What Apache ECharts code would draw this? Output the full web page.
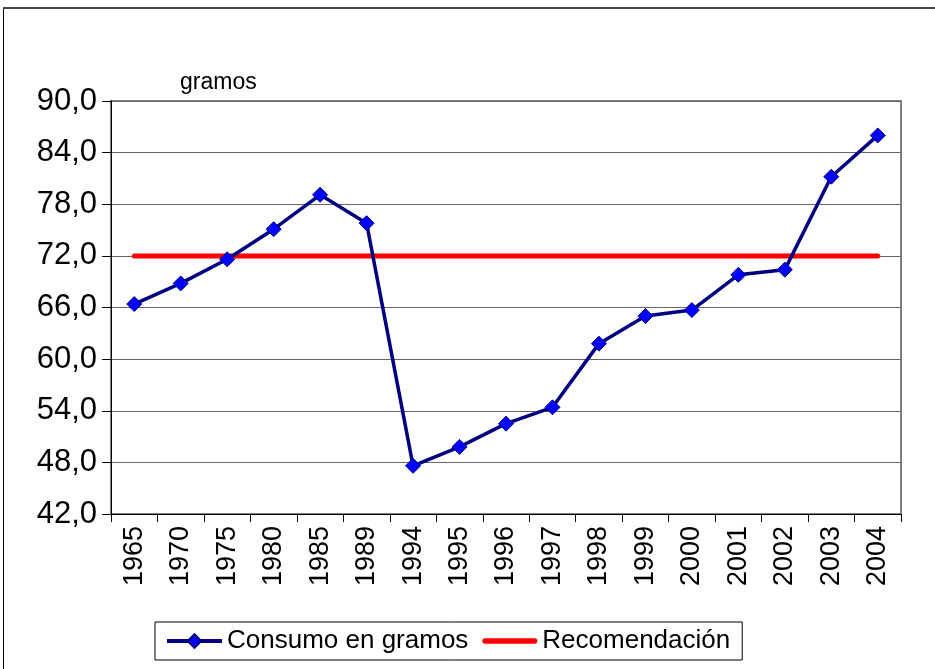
<!DOCTYPE html>
<html>
<head>
<meta charset="utf-8">
<script src="https://cdn.jsdelivr.net/npm/echarts@6/dist/echarts.min.js"></script>
<style>
  html, body { margin: 0; padding: 0; background: #fff; }
  #chart { width: 935px; height: 669px; }
</style>
</head>
<body>
<div id="chart"></div>
<script>
// data
var years = ["1965", "1970", "1975", "1980", "1985", "1989", "1994", "1995", "1996",
  "1997", "1998", "1999", "2000", "2001", "2002", "2003", "2004"];
var consumo = [66.4, 68.8, 71.6, 75.1, 79.1, 75.8, 47.6, 49.8, 52.5,
  54.4, 61.8, 65.0, 65.7, 69.8, 70.4, 81.2, 86.0];
var recomendacion = [72, 72, 72, 72, 72, 72, 72, 72, 72,
  72, 72, 72, 72, 72, 72, 72, 72];

var chart = echarts.init(document.getElementById("chart"));
var font = "Liberation Sans, Arial, sans-serif";

var option = {
  animation: false,
  backgroundColor: "#fff",
  graphic: [
    {
      type: "rect",
      shape: { x: 3.5, y: 8.5, width: 1000, height: 700 },
      style: { fill: "none", stroke: "#000", lineWidth: 1 }
    },
    {
      type: "line",
      shape: { x1: 3, y1: 8, x2: 935, y2: 8 },
      style: { stroke: "#444", lineWidth: 2 }
    },
    {
      type: "text",
      left: 180, top: 71,
      style: { text: "gramos", font: "23px " + font, fill: "#000" }
    }
  ],
  grid: {
    left: 111, right: 34, top: 101, bottom: 155,
    show: true, borderColor: "#808080", borderWidth: 2, backgroundColor: "#fff"
  },
  legend: {
    left: 155, top: 622,
    padding: [6, 12, 6, 10],
    borderColor: "#000", borderWidth: 1,
    itemWidth: 55, itemHeight: 17, itemGap: 14,
    textStyle: { fontFamily: font, fontSize: 26, color: "#000" },
    data: [
      { name: "Consumo en gramos", lineStyle: { width: 4 } },
      {
        name: "Recomendación",
        icon: "path://M3,0 L57,0 A3,3 0 0 1 57,6 L3,6 A3,3 0 0 1 3,0 Z"
      }
    ]
  },
  xAxis: {
    type: "category",
    data: years,
    boundaryGap: true,
    axisLine: { lineStyle: { color: "#000", width: 1 } },
    axisTick: { show: true, length: 8, alignWithLabel: false, lineStyle: { color: "#000" } },
    axisLabel: {
      rotate: 90, interval: 0, margin: 12,
      fontFamily: font, fontSize: 27, color: "#000"
    },
    splitLine: { show: false }
  },
  yAxis: {
    type: "value",
    min: 42, max: 90, interval: 6,
    axisLine: { show: true, lineStyle: { color: "#000", width: 1 } },
    axisTick: { show: true, length: 9, lineStyle: { color: "#000" } },
    axisLabel: {
      margin: 14, fontFamily: font, fontSize: 31, color: "#000",
      formatter: function (v) { return v.toFixed(1).replace(".", ","); }
    },
    splitLine: { lineStyle: { color: "#666", width: 1 } }
  },
  series: [
    {
      name: "Recomendación",
      type: "line",
      data: recomendacion,
      symbol: "none",
      lineStyle: { color: "#ff0000", width: 5, cap: "round" },
      itemStyle: { color: "#ff0000" },
      z: 2
    },
    {
      name: "Consumo en gramos",
      type: "line",
      data: consumo,
      symbol: "diamond",
      symbolSize: 15,
      lineStyle: { color: "#000080", width: 3.5 },
      itemStyle: { color: "#0000ff", borderColor: "#000080", borderWidth: 1 },
      z: 3
    }
  ]
};

chart.setOption(option);
</script>
</body>
</html>
